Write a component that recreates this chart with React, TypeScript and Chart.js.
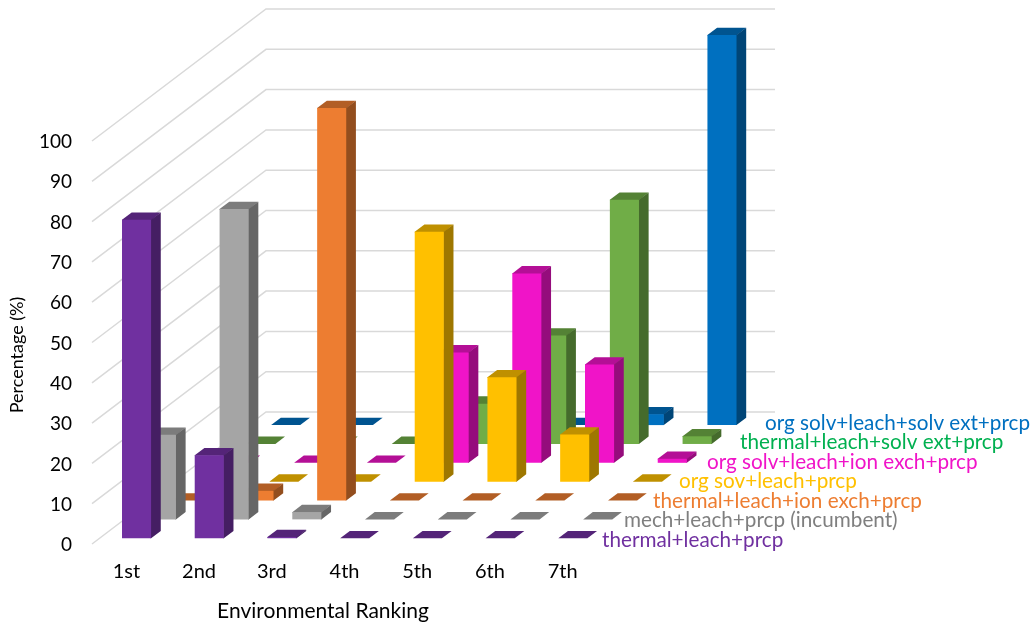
import React, { useEffect, useRef } from "react";
import { BarController, BarElement, CategoryScale, Chart, LinearScale } from "chart.js";

// Categories and series of the oblique 3D column chart, front row first.
const rankings = ["1st", "2nd", "3rd", "4th", "5th", "6th", "7th"];
const thermalLeachPrcp = [79, 20.6, 0.3, 0, 0, 0, 0];
const mechLeachPrcp = [21, 77, 1.8, 0, 0, 0, 0];
const thermalLeachIonExch = [0, 2.4, 97.4, 0, 0, 0, 0];
const orgSovLeachPrcp = [0, 0, 0, 62, 25.9, 11.7, 0];
const orgSolvLeachIonExch = [0, 0, 0, 27.4, 47, 24.4, 1];
const thermalLeachSolvExt = [0, 0, 0, 10, 26.9, 60.6, 1.9];
const orgSolvLeachSolvExt = [0, 0, 0, 0, 0, 2.7, 96.8];
const seriesNames = [
  "thermal+leach+prcp",
  "mech+leach+prcp (incumbent)",
  "thermal+leach+ion exch+prcp",
  "org sov+leach+prcp",
  "org solv+leach+ion exch+prcp",
  "thermal+leach+solv ext+prcp",
  "org solv+leach+solv ext+prcp",
];
const seriesColors = ["#7030A0", "#A5A5A5", "#ED7D31", "#FFC000", "#F014C8", "#70AD47", "#0070C0"];
const nameColors = ["#7030A0", "#7F7F7F", "#ED7D31", "#FFC000", "#F014C8", "#00B050", "#0070C0"];
const seriesValues = [
  thermalLeachPrcp,
  mechLeachPrcp,
  thermalLeachIonExch,
  orgSovLeachPrcp,
  orgSolvLeachIonExch,
  thermalLeachSolvExt,
  orgSolvLeachSolvExt,
];

// Oblique projection of the depth axis, in canvas pixels.
const WALL_DX = 174;
const WALL_DY = 132;
const BAR_DEPTH_SHARE = 0.389;
const BAR_NUDGE = 0.6;
const SEAM = 0.6;
const FONT = "Lato, 'Open Sans', sans-serif";
const NAME_LEFT = [602, 624, 653, 679, 707, 740, 765];
const NAME_STEP = 19.5;

function shade(hex: string, factor: number) {
  const n = parseInt(hex.slice(1), 16);
  const c = [(n >> 16) & 255, (n >> 8) & 255, n & 255].map((v) => Math.round(v * factor));
  return `rgb(${c[0]},${c[1]},${c[2]})`;
}

class Bar3DElement extends BarElement {
  static id = "bar3d";
  static defaults = BarElement.defaults;
  static defaultRoutes = BarElement.defaultRoutes;

  draw(ctx: CanvasRenderingContext2D) {
    const { x, y, base, width } = (this as any).getProps(["x", "y", "base", "width"]);
    const color = (this as any).options.backgroundColor as string;
    const step = 1 / seriesNames.length;
    const dx = WALL_DX * step * BAR_DEPTH_SHARE;
    const dy = WALL_DY * step * BAR_DEPTH_SHARE;
    const l = x - width / 2;
    const r = x + width / 2;
    const poly = (pts: number[][], fill: string) => {
      ctx.fillStyle = fill;
      ctx.beginPath();
      pts.forEach(([a, b], i) => (i ? ctx.lineTo(a, b) : ctx.moveTo(a, b)));
      ctx.closePath();
      ctx.fill();
    };
    ctx.save();
    if (base - y > 0.01) {
      // Side and top run slightly under the front face so no seam shows through.
      poly([[r + dx, y - dy], [l + dx, y - dy], [l, y], [l, y + SEAM], [r, y + SEAM]], shade(color, 0.75));
      poly([[r - SEAM, y], [r, y], [r + dx, y - dy], [r + dx, base - dy], [r, base], [r - SEAM, base]], shade(color, 0.62));
      poly([[l, y], [r, y], [r, base], [l, base]], color);
    } else {
      poly([[l, y], [r, y], [r + dx, y - dy], [l + dx, y - dy]], shade(color, 0.75));
    }
    ctx.restore();
  }
}

class Bar3DController extends BarController {
  static id = "bar3d";
  static defaults = { ...BarController.defaults, dataElementType: "bar3d" };
  static overrides = BarController.overrides;

  updateElement(el: any, index: number, props: any, mode: any) {
    if (props && props.x !== undefined) {
      const row = ((this as any).index + 0.5 - BAR_DEPTH_SHARE / 2) / seriesNames.length;
      props.x += WALL_DX * row + BAR_NUDGE;
      props.y -= WALL_DY * row;
      props.base -= WALL_DY * row;
    }
    (BarController.prototype as any).updateElement.call(this, el, index, props, mode);
  }
}

// Back wall and side wall gridlines, drawn behind the columns.
const wallsPlugin = {
  id: "walls",
  beforeDatasetsDraw(chart: any) {
    const { ctx, chartArea, scales } = chart;
    ctx.save();
    ctx.strokeStyle = "#D9D9D9";
    ctx.lineWidth = 1.5;
    scales.y.ticks.forEach((t: any) => {
      const y = scales.y.getPixelForValue(t.value);
      ctx.beginPath();
      ctx.moveTo(chartArea.left, y);
      ctx.lineTo(chartArea.left + WALL_DX, y - WALL_DY);
      ctx.lineTo(chartArea.right + WALL_DX, y - WALL_DY);
      ctx.stroke();
    });
    ctx.restore();
  },
  afterDraw(chart: any) {
    const { ctx, chartArea } = chart;
    ctx.save();
    ctx.textBaseline = "middle";
    ctx.textAlign = "left";
    ctx.font = `20.7px ${FONT}`;
    seriesNames.forEach((name, i) => {
      ctx.fillStyle = nameColors[i];
      ctx.fillText(name, NAME_LEFT[i], chartArea.bottom - 4 - NAME_STEP * i);
    });
    ctx.fillStyle = "#000000";
    ctx.textAlign = "center";
    ctx.font = `21px ${FONT}`;
    ctx.fillText("Environmental Ranking", 323, 611);
    ctx.font = `18px ${FONT}`;
    ctx.translate(17, 355);
    ctx.rotate(-Math.PI / 2);
    ctx.fillText("Percentage (%)", 0, 0);
    ctx.restore();
  },
};

Chart.register(CategoryScale, LinearScale, BarElement, BarController, Bar3DElement as any, Bar3DController as any);

export default function App() {
  const ref = useRef<HTMLCanvasElement>(null);
  useEffect(() => {
    const chart = new Chart(ref.current!, {
      type: "bar3d" as any,
      data: {
        labels: rankings,
        datasets: seriesNames.map((label, i) => ({
          label,
          data: seriesValues[i],
          backgroundColor: seriesColors[i],
          clip: false,
          grouped: false,
          barPercentage: 0.4,
          categoryPercentage: 1,
        })) as any,
      },
      plugins: [wallsPlugin],
      options: {
        responsive: false,
        animation: false,
        layout: { padding: { top: 141, right: 431, left: 0, bottom: 0 } },
        plugins: { legend: { display: false }, tooltip: { enabled: false }, title: { display: false } },
        scales: {
          x: {
            type: "category",
            grid: { display: false },
            border: { display: false },
            ticks: { color: "#000000", font: { family: FONT, size: 20 }, padding: 8, maxRotation: 0, labelOffset: -2 },
            afterFit: (s: any) => { s.height = 80; },
          },
          y: {
            type: "linear",
            min: 0,
            max: 100,
            grid: { display: false, drawTicks: false },
            border: { display: false },
            ticks: { stepSize: 10, color: "#000000", font: { family: FONT, size: 19 }, padding: 20, labelOffset: 1 },
            afterFit: (s: any) => { s.width = 92; },
          },
        },
      } as any,
    });
    return () => chart.destroy();
  }, []);
  return (
    <div style={{ position: "fixed", left: 0, top: 0, width: 1032, height: 624, background: "#FFFFFF" }}>
      <canvas ref={ref} width={1032} height={624} style={{ display: "block" }} />
    </div>
  );
}
